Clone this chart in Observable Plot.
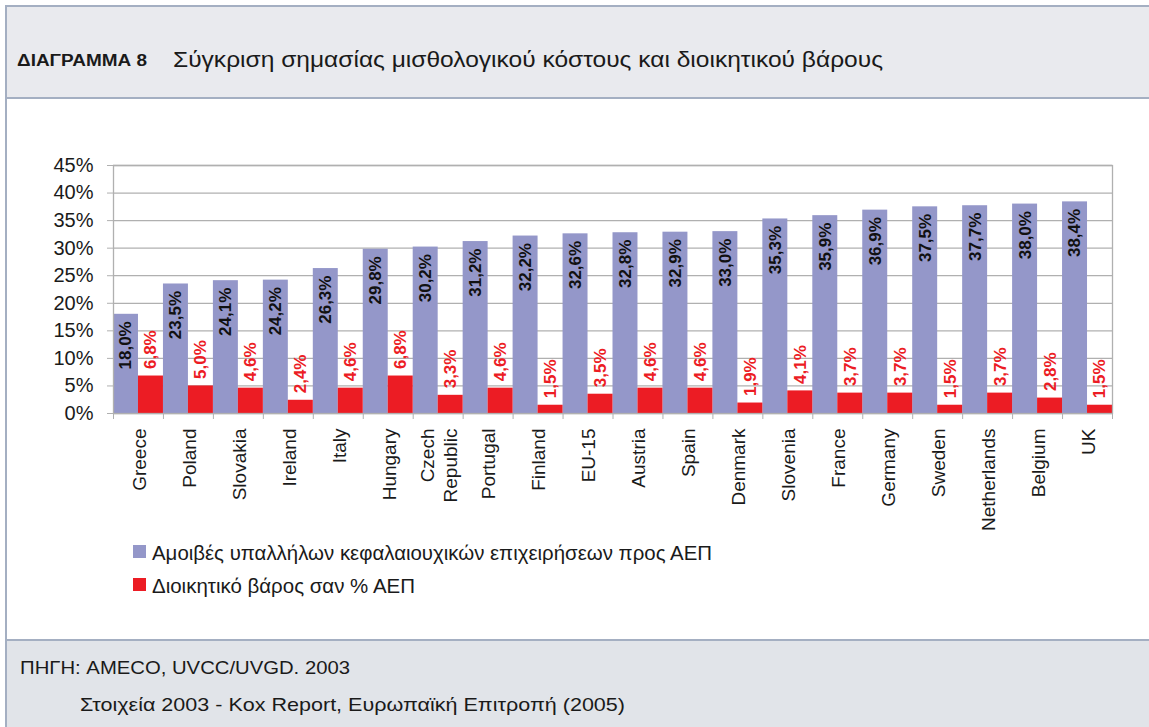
<!DOCTYPE html>
<html><head><meta charset="utf-8">
<script src="https://cdn.jsdelivr.net/npm/d3@7"></script>
<script src="https://cdn.jsdelivr.net/npm/@observablehq/plot@0.6"></script>
<style>
body{margin:0;background:#fff;}
#root{position:relative;width:1149px;height:727px;overflow:hidden;background:#fff;font-family:"Liberation Sans",Arial,sans-serif;}
#header{position:absolute;left:5px;top:5px;width:1144px;height:94px;box-sizing:border-box;background:#e9eaee;border-top:2px solid #a4afc2;border-left:2px solid #a4afc2;border-bottom:2px solid #a4afc2;}
#mid{position:absolute;left:5px;top:99px;width:2px;height:541px;background:#a4afc2;}
#footer{position:absolute;left:5px;top:639px;width:1144px;height:88px;box-sizing:border-box;background:#e1e4e9;border-top:2px solid #a4afc2;border-left:2px solid #a4afc2;}
#chart{position:absolute;left:0;top:140px;}
#chrome{position:absolute;left:0;top:0;pointer-events:none;}
</style></head>
<body><div id="root">
<div id="header"></div><div id="mid"></div><div id="footer"></div>
<div id="chart"></div>
<svg id="chrome" width="1149" height="727"></svg>
</div>
<script>
// ---- data ----
const countries = ["Greece","Poland","Slovakia","Ireland","Italy","Hungary","Czech\nRepublic","Portugal","Finland","EU-15","Austria","Spain","Denmark","Slovenia","France","Germany","Sweden","Netherlands","Belgium","UK"];
const employeeCompensation = [18.0,23.5,24.1,24.2,26.3,29.8,30.2,31.2,32.2,32.6,32.8,32.9,33.0,35.3,35.9,36.9,37.5,37.7,38.0,38.4];
const adminBurden = [6.8,5.0,4.6,2.4,4.6,6.8,3.3,4.6,1.5,3.5,4.6,4.6,1.9,4.1,3.7,3.7,1.5,3.7,2.8,1.5];
const yTicks = [0,5,10,15,20,25,30,35,40,45];
const seriesNames = ["Αμοιβές υπαλλήλων κεφαλαιουχικών επιχειρήσεων προς ΑΕΠ","Διοικητικό βάρος σαν % ΑΕΠ"];
const figureLabel = "ΔΙΑΓΡΑΜΜΑ 8";
const titleText = "Σύγκριση σημασίας μισθολογικού κόστους και διοικητικού βάρους";
const sourceLines = ["ΠΗΓΗ: AMECO, UVCC/UVGD. 2003","Στοιχεία 2003 - Kox Report, Ευρωπαϊκή Επιτροπή (2005)"];

// ---- styles ----
const blue = "#9497c9", red = "#ec1c24", gray = "#b0b0b0";
const W = 1149, H = 400, ML = 113, MR = 37, MT = 25, MB = 127;
const half = (W - ML - MR) / countries.length / 2;
const fmt = v => d3.format(".1f")(v).replace(".", ",") + "%";
const rows = countries.map((c, i) => ({country: c, comp: employeeCompensation[i], admin: adminBurden[i]}));

const chart = Plot.plot({
  width: W, height: H, marginLeft: ML, marginRight: MR, marginTop: MT, marginBottom: MB,
  style: {fontFamily: "'Liberation Sans', Arial, sans-serif", background: "transparent", color: "#1a1a1a"},
  x: {type: "band", domain: countries, padding: 0, round: false, label: null},
  y: {domain: [0, 45], label: null},
  marks: [
    Plot.gridY(yTicks, {stroke: gray, strokeOpacity: 1, strokeWidth: 1.3}),
    Plot.barY(rows, {x: "country", y: "comp", fill: blue, insetLeft: 0, insetRight: half}),
    Plot.barY(rows, {x: "country", y: "admin", fill: red, insetLeft: half, insetRight: 0}),
    Plot.frame({stroke: gray, strokeWidth: 1.3}),
    Plot.axisY(yTicks, {tickFormat: d => d + "%", tickSize: 6, tickPadding: 14, fontSize: 20, stroke: gray, label: null}),
    Plot.axisX({tickSize: 6, fill: "none", dx: -half, stroke: gray, label: null}),
    Plot.axisX(["UK"], {tickSize: 6, fill: "none", dx: half, stroke: gray, label: null}),
    Plot.axisX({tickSize: 0, tickPadding: 15, tickRotate: -90, fontSize: 19, label: null, lineHeight: 1.2}),
    Plot.text(rows, {x: "country", y: "comp", text: d => fmt(d.comp), rotate: -90, textAnchor: "end", dx: -half / 2, dy: 7, fontWeight: "bold", fontSize: 17, fill: "#111"}),
    Plot.text(rows, {x: "country", y: "admin", text: d => fmt(d.admin), rotate: -90, textAnchor: "start", dx: half / 2, dy: -7, fontWeight: "bold", fontSize: 17, fill: red})
  ]
});
document.getElementById("chart").appendChild(chart);

// ---- chrome: title, legend, source ----
const svg = d3.select("#chrome");
const txt = (s, x, y, size, len, weight) => svg.append("text").attr("x", x).attr("y", y)
  .attr("font-size", size).attr("font-weight", weight || "normal").attr("fill", "#1a1a1a")
  .attr("font-family", "'Liberation Sans', Arial, sans-serif")
  .attr("textLength", len).attr("lengthAdjust", "spacingAndGlyphs").text(s);
txt(figureLabel, 17, 66, 16, 130, "bold");
txt(titleText, 173, 67, 22, 710);
const legendColors = [blue, red];
const legendLens = [560, 263];
seriesNames.forEach((n, i) => {
  const y = 552 + i * 33;
  svg.append("rect").attr("x", 133).attr("y", y - 7).attr("width", 13).attr("height", 13).attr("fill", legendColors[i]);
  txt(n, 152, y + 7.5, 20, legendLens[i]);
});
txt(sourceLines[0], 20, 674, 19, 330);
txt(sourceLines[1], 80, 711, 19, 545);
</script>
</body></html>
